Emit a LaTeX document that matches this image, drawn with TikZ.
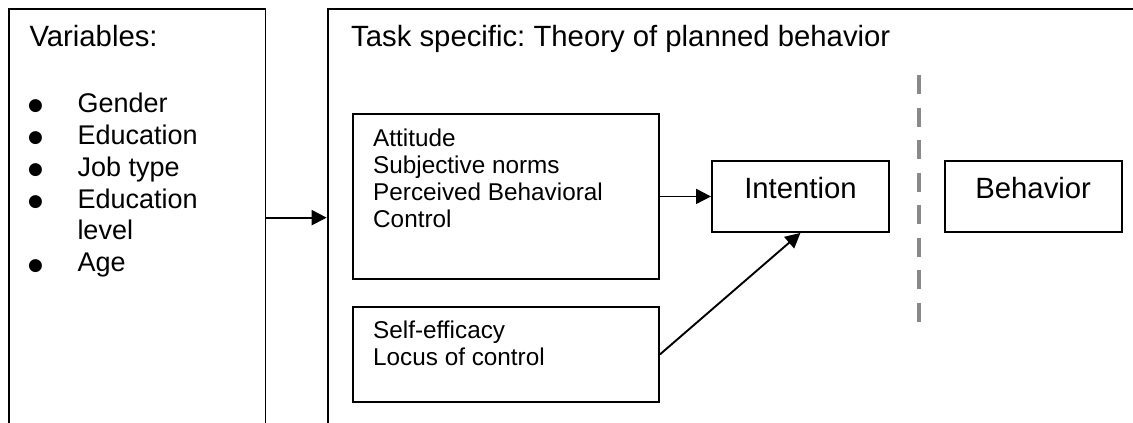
\documentclass[tikz,border=0pt]{standalone}
\usepackage{fontspec}
\setmainfont{Liberation Sans}
\newfontfamily\markfont{DejaVu Sans}
\usetikzlibrary{arrows.meta,calc}
\frenchspacing
\definecolor{dashgray}{RGB}{137,137,137}
\newcommand\headfont{\fontsize{29.3}{33.7}\selectfont}
\newcommand\listfont{\fontsize{27}{31.9}\selectfont}
\newcommand\boxfont{\fontsize{24.3}{27.3}\selectfont}
% bullet column of the variable list
\newcommand\bulletmark{\makebox[48pt][l]{\hspace*{-1.5pt}\raisebox{1.5pt}{\markfont\fontsize{17}{17}\selectfont ●}}}
\newcommand\nobullet{\hspace*{48pt}}
\begin{document}
\begin{tikzpicture}[x=1pt,y=-1pt,
  panel/.style={draw, line width=1.9pt, inner sep=0pt, anchor=north west},
  boxstyle/.style={draw, line width=1.9pt, inner sep=0pt, anchor=north west},
  txt/.style={inner sep=0pt, anchor=base west},
  link/.style={line width=1.9pt, -{Triangle[length=15pt,width=15pt]}},
  divider/.style={line width=4.3pt, draw=dashgray, dash pattern=on 19pt off 13.57pt}]
\useasboundingbox (0,0) rectangle (1133,423);
\clip (0,0) rectangle (1133,423);

% two open-bottom panels
\node[panel, minimum width=256.5, minimum height=417.4] (vars) at (8,8) {};
\node[panel, minimum width=880, minimum height=417.4] (tpb) at (326.7,8) {};

% left panel: variables
\node[txt, font=\headfont] (varstitle) at (29.3,46.5) {Variables:};
\node[txt, font=\listfont] (varslist) at (29.3,112.3) {%
  \begin{tabular}[t]{@{}l@{}}
  \bulletmark Gender\\
  \bulletmark Education\\
  \bulletmark Job type\\
  \bulletmark Education\\
  \nobullet level\\
  \bulletmark Age
  \end{tabular}};

% right panel: theory of planned behavior
\node[txt, font=\headfont] (tpbtitle) at (351,46) {Task specific: Theory of planned behavior};

\node[boxstyle, minimum width=306, minimum height=165] (attbox) at (352,113) {};
\node[txt, font=\boxfont] (atttext) at (373,146) {%
  \begin{tabular}[t]{@{}l@{}}
  Attitude\\
  Subjective norms\\
  Perceived Behavioral\\
  Control
  \end{tabular}};

\node[boxstyle, minimum width=306, minimum height=95] (selfbox) at (352,306) {};
\node[txt, font=\boxfont] (selftext) at (373,338.3) {%
  \begin{tabular}[t]{@{}l@{}}
  Self-efficacy\\
  Locus of control
  \end{tabular}};

\node[boxstyle, minimum width=177, minimum height=71, text height=21.4pt, text depth=16.4pt, font=\headfont] (intent) at (711,160) {Intention};
\node[boxstyle, minimum width=177, minimum height=71, text height=21.4pt, text depth=16.4pt, font=\headfont] (behav) at (943.7,160) {Behavior};

% dashed divider between intention and behavior
\coordinate (dtop) at (919,75);
\coordinate (dbot) at (919,322);
\draw[divider] (dtop) -- (dbot);

% connectors
\draw[link] (vars.east) -- (tpb.west);
\draw[link] (attbox.east) -- (intent.west);
\draw[link] (selfbox.east) -- (intent.south);
\end{tikzpicture}
\end{document}
